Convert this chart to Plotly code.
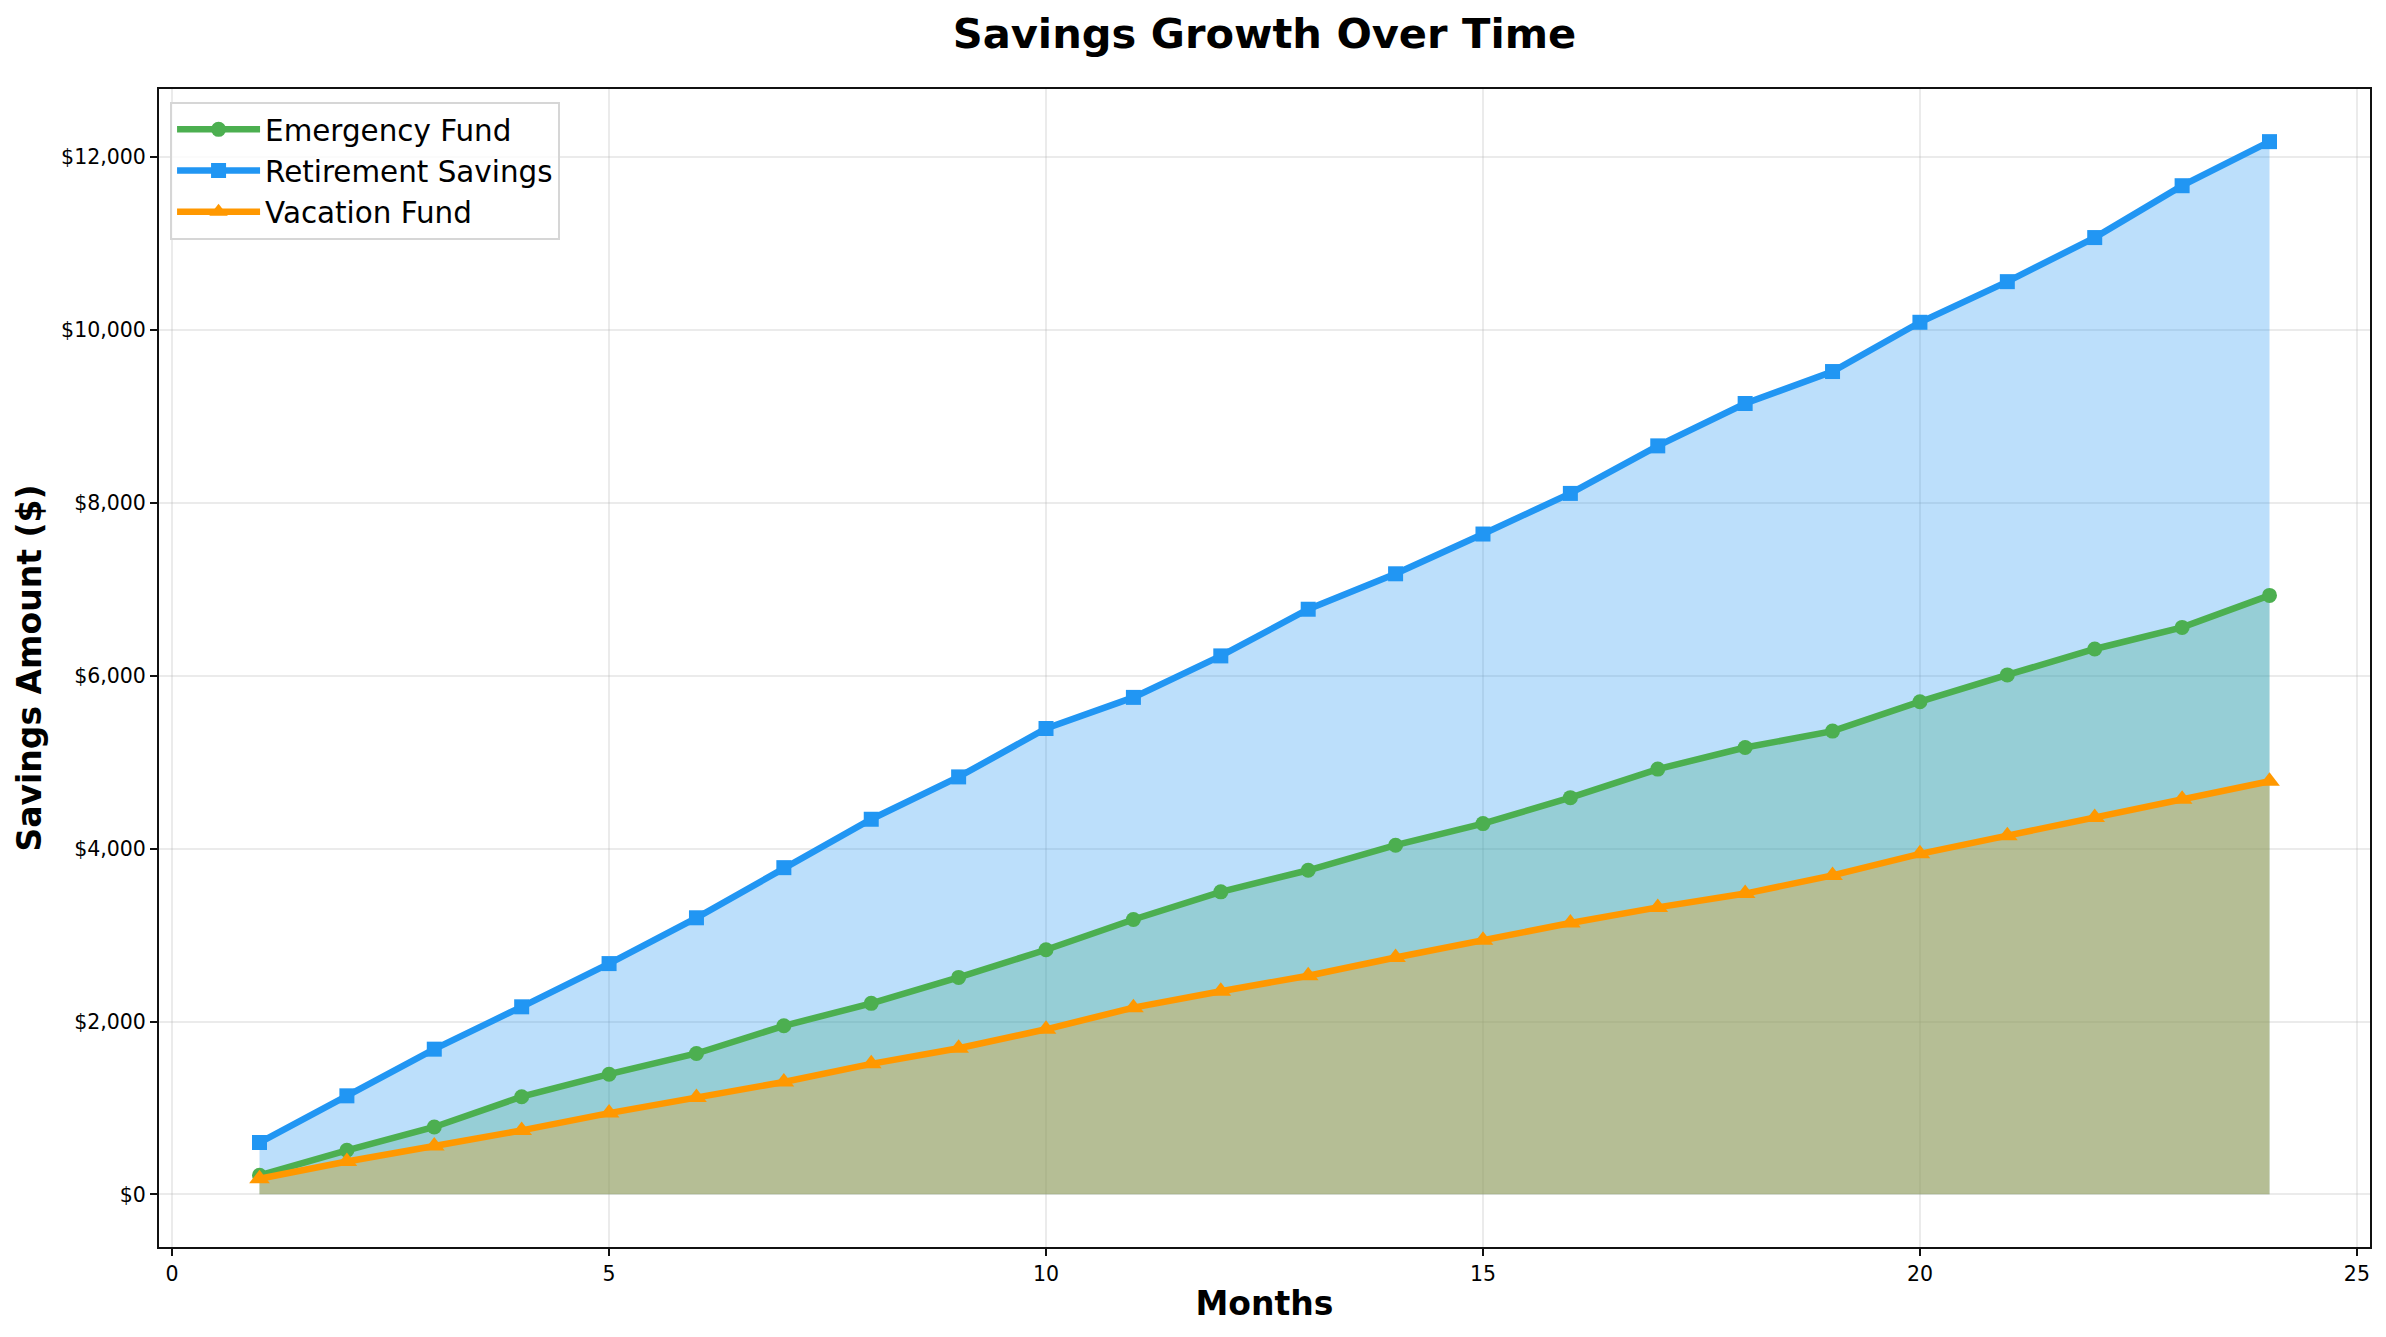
import plotly.graph_objects as go

months = list(range(1, 25))

emergency = [220, 510, 780, 1130, 1390, 1630, 1950, 2210, 2510, 2830, 3180, 3500,
             3750, 4040, 4290, 4590, 4920, 5170, 5360, 5700, 6010, 6310, 6560, 6930]
retirement = [600, 1140, 1680, 2170, 2670, 3200, 3780, 4340, 4830, 5390, 5750, 6230,
              6770, 7180, 7640, 8110, 8660, 9150, 9520, 10090, 10560, 11070, 11670, 12180]
vacation = [180, 380, 560, 740, 940, 1120, 1300, 1510, 1690, 1910, 2160, 2350,
            2530, 2740, 2940, 3140, 3320, 3480, 3690, 3940, 4150, 4360, 4570, 4780]

names = ["Emergency Fund", "Retirement Savings", "Vacation Fund"]
series = [emergency, retirement, vacation]
colors = ["#4CAF50", "#2196F3", "#FF9800"]
fills = ["rgba(76,175,80,0.3)", "rgba(33,150,243,0.3)", "rgba(255,152,0,0.3)"]
symbols = ["circle", "square", "triangle-up"]
marker_sizes = [15, 15, 18]

fig = go.Figure()

# fills go first so every line stays on top of every fill
for name, values, fill in zip(names, series, fills):
    fig.add_trace(go.Scatter(x=months, y=values, mode="lines", fill="tozeroy",
                             fillcolor=fill, line=dict(color=fill, width=1.5),
                             showlegend=False, hoverinfo="skip", name=name))

for name, values, color, symbol, size in zip(names, series, colors, symbols, marker_sizes):
    fig.add_trace(go.Scatter(x=months, y=values, mode="lines+markers", name=name,
                             line=dict(color=color, width=6.5),
                             marker=dict(color=color, size=size, symbol=symbol)))

axis_style = dict(showline=True, mirror=True, linecolor="#111111", linewidth=2,
                  ticks="outside", ticklen=7, tickwidth=2, tickcolor="#111111",
                  showgrid=True, gridcolor="rgba(176,176,176,0.26)", gridwidth=2,
                  zeroline=False, tickfont=dict(size=20.5, color="black"))

fig.update_xaxes(range=[-0.15, 25.15], dtick=5, tick0=0,
                 title=dict(text="<b>Months</b>", font=dict(size=33, color="black"), standoff=7),
                 **axis_style)
fig.update_yaxes(range=[-609, 12789], dtick=2000, tick0=0, tickprefix="$", tickformat=",d",
                 title=dict(text="<b>Savings Amount ($)</b>", font=dict(size=33, color="black"), standoff=10),
                 **axis_style)

fig.update_layout(
    width=2386, height=1337,
    margin=dict(l=159, r=16, t=89, b=90),
    paper_bgcolor="white", plot_bgcolor="white",
    font=dict(family="DejaVu Sans", color="black"),
    title=dict(text="<b>Savings Growth Over Time</b>", font=dict(size=41.6, color="black"),
               x=0.5, xref="paper", xanchor="center", y=0.975, yanchor="middle"),
    legend=dict(x=0.005, y=0.989, xanchor="left", yanchor="top",
                bgcolor="rgba(255,255,255,0.8)", bordercolor="#D6D6D6", borderwidth=2,
                font=dict(size=29.4), itemwidth=83, tracegroupgap=0),
)

fig.write_html("out.html", config=dict(displayModeBar=False),
               post_script="document.body.style.margin='0';")
